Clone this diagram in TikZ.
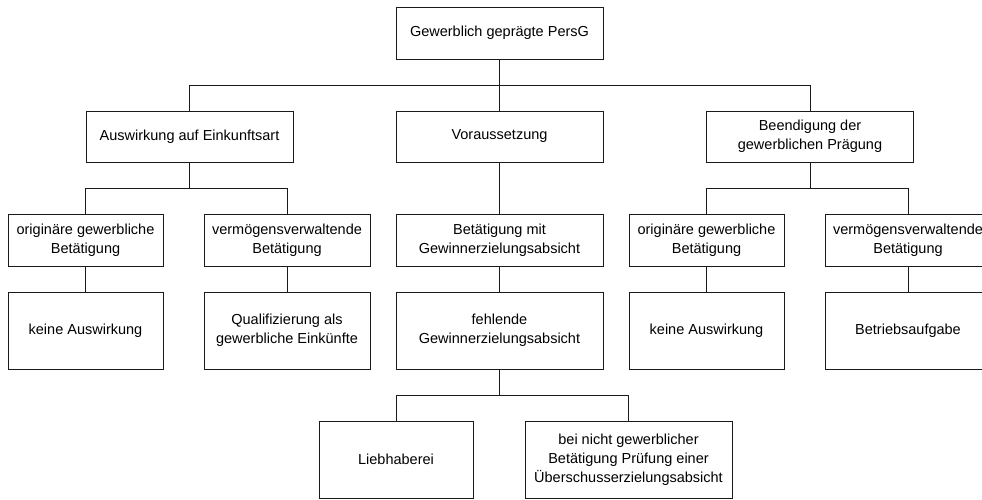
\documentclass[tikz,border=0pt]{standalone}
\usepackage{fontspec}
\setmainfont{Liberation Sans}
\usetikzlibrary{positioning,calc}
\definecolor{ink}{HTML}{1A1A1A}
\definecolor{surface}{HTML}{FFFFFF}
\tikzset{
  box/.style={draw=ink, line width=0.9pt, fill=surface, align=center,
              font=\fontsize{14.5}{19}\selectfont, inner sep=2pt,
              minimum width=207pt, minimum height=52pt},
  boxn/.style={box, minimum width=155pt},
  boxm/.style={box, minimum width=166pt},
  tall/.style={minimum height=77pt},
  % ---- orthogonal tree connectors ----
  branch/.style={line width=0.9pt, draw=ink,
    to path={(\tikztostart) -- ($(\tikztostart)+(0,26)$) -| (\tikztotarget)}},
  stem/.style={line width=0.9pt, draw=ink},
}
\begin{document}
\begin{tikzpicture}[x=1pt,y=-1pt]
\useasboundingbox (0,0) rectangle (982,499);
  % root
  \node[box] (root) at (499.5,33) {Gewerblich geprägte PersG};
  % first level
  \node[box, minimum height=51pt] (ausw) at (189.5,136.5) {Auswirkung auf Einkunftsart};
  \node[box, minimum height=51pt] (vor) at (499.5,136.5) {Voraussetzung};
  \node[box, minimum height=51pt] (beend) at (810,136.5) {Beendigung der\\gewerblichen Prägung};
  % second level
  \node[boxn] (orig1) at (85.5,240) {originäre gewerbliche\\Betätigung};
  \node[boxm] (verm1) at (287,240) {vermögensverwaltende\\Betätigung};
  \node[box] (betg) at (499.5,240) {Betätigung mit\\Gewinnerzielungsabsicht};
  \node[boxn] (orig2) at (706.5,240) {originäre gewerbliche\\Betätigung};
  \node[boxm] (verm2) at (908,240) {vermögensverwaltende\\Betätigung};
  % third level
  \node[boxn, tall] (keine1) at (85.5,330.5) {keine Auswirkung};
  \node[boxm, tall] (qual) at (287,330.5) {Qualifizierung als\\gewerbliche Einkünfte};
  \node[box, tall] (fehl) at (499.5,330.5) {fehlende\\Gewinnerzielungsabsicht};
  \node[boxn, tall] (keine2) at (706.5,330.5) {keine Auswirkung};
  \node[boxm, tall] (betr) at (908,330.5) {Betriebsaufgabe};
  % fourth level
  \node[boxn, tall, minimum width=154pt] (lieb) at (396,459.5) {Liebhaberei};
  \node[box, tall] (pruef) at (628.5,459.5) {bei nicht gewerblicher\\Betätigung Prüfung einer\\Überschusserzielungsabsicht};
  % connectors
  \foreach \c in {ausw,vor,beend}{ \draw[branch] (root.south) to (\c.north); }
  \foreach \c in {orig1,verm1}{ \draw[branch] (ausw.south) to (\c.north); }
  \foreach \c in {orig2,verm2}{ \draw[branch] (beend.south) to (\c.north); }
  \foreach \c in {lieb,pruef}{ \draw[branch] (fehl.south) to (\c.north); }
  \draw[stem] (vor.south) -- (betg.north);
  \draw[stem] (betg.south) -- (fehl.north);
  \draw[stem] (orig1.south) -- (keine1.north);
  \draw[stem] (verm1.south) -- (qual.north);
  \draw[stem] (orig2.south) -- (keine2.north);
  \draw[stem] (verm2.south) -- (betr.north);
\end{tikzpicture}
\end{document}
